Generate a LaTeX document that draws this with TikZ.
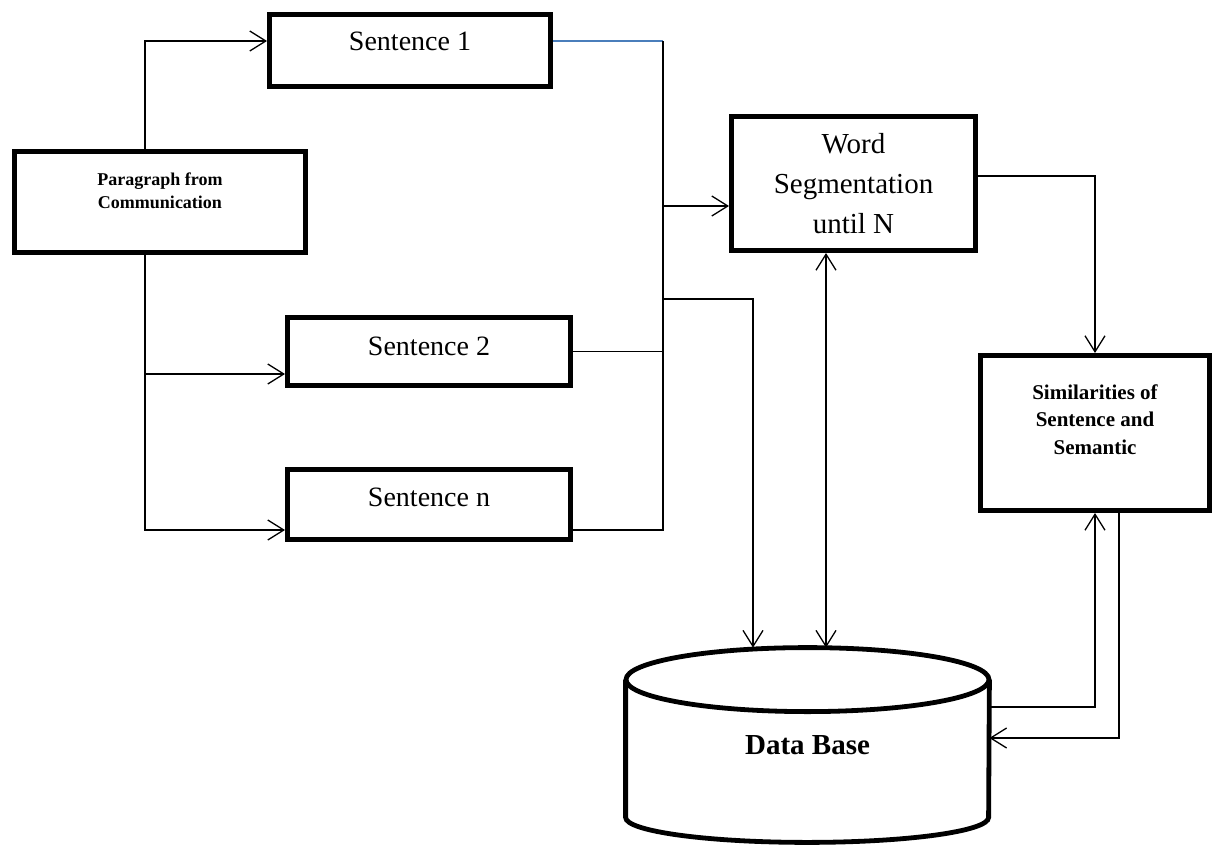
\documentclass[tikz,border=0pt]{standalone}
\usepackage{fontspec}
\setmainfont{Liberation Serif}
\usetikzlibrary{arrows.meta}
\definecolor{linkblue}{HTML}{4A7EBB}
\tikzset{
	flowbox/.style={draw=black, line width=2.6pt, align=center, inner sep=0pt},
	sentbox/.style={draw=black, line width=2.6pt, inner sep=0pt, minimum width=141.4pt,
		font=\fontsize{14}{17}\selectfont, text height=10pt},
	flowline/.style={line width=0.65pt},
	flowarr/.style={-{Straight Barb[length=8pt, width=10pt]}, line width=0.65pt},
	flowarrboth/.style={{Straight Barb[length=8pt, width=10pt]}-{Straight Barb[length=8pt, width=10pt]}, line width=0.65pt},
	dbline/.style={line width=2.4pt}
}

\begin{document}
\begin{tikzpicture}[x=0.5pt, y=-0.5pt]
	\useasboundingbox (0,0) rectangle (1216,846);
	% boxes
	\node[flowbox, minimum width=145.4pt, minimum height=50.4pt, font=\bfseries\fontsize{9}{11.5}\selectfont] (para) at (160,202) {Paragraph from\\Communication\\~};
	\node[sentbox, minimum width=140.4pt, minimum height=35.9pt, text depth=10pt] (s1) at (410,50.5) {Sentence 1};
	\node[sentbox, minimum height=33.9pt, text depth=5.9pt] (s2) at (429,351.5) {Sentence 2};
	\node[sentbox, minimum height=34.9pt, text depth=7.9pt] (sn) at (429,504.5) {Sentence n};
	\node[flowbox, minimum width=121.9pt, minimum height=66.9pt, font=\fontsize{14.5}{20}\selectfont] (ws) at (853.5,183.5) {Word\\Segmentation\\until N};
	\node[flowbox, minimum width=114.4pt, minimum height=77.4pt, font=\bfseries\fontsize{10.5}{13.75}\selectfont] (sim) at (1095,433) {Similarities of\\Sentence and\\Semantic\\~};
	\node[inner sep=0pt, minimum width=181.5pt, minimum height=97pt, font=\bfseries\fontsize{14.5}{17}\selectfont] (db) at (807.5,745) {Data Base};

	% database drum
	\draw[dbline] ([yshift=-16pt]db.north) ellipse [x radius=90.75pt, y radius=16pt];
	\draw[dbline] ([yshift=-16pt]db.north west) -- ([yshift=12.5pt]db.south west)
		arc[start angle=180, end angle=360, x radius=90.75pt, y radius=12.5pt]
		-- ([yshift=-16pt]db.north east);

	% paragraph split into sentences
	\coordinate (trunk) at ([xshift=-7.5pt]para.south);
	\coordinate (s2in) at ([yshift=-11.25pt]s2.west);
	\draw[flowarr] ([xshift=-7.5pt]para.north) |- ([yshift=4.75pt]s1.west);
	\draw[flowarr] (trunk) |- ([yshift=-12.75pt]sn.west);
	\draw[flowarr] (trunk |- s2in) -- (s2in);

	% sentences collected on one bus
	\coordinate (bustop) at (663,41);
	\coordinate (busmid) at (663,299);
	\coordinate (snout) at ([yshift=-12.75pt]sn.east);
	\draw[flowline, linkblue] ([yshift=4.75pt]s1.east) -- (bustop);
	\draw[flowline] (bustop) -- (bustop |- snout) -- (snout);
	\draw[flowline] (s2.east) -- (s2.east -| bustop);
	\coordinate (wsin) at ([yshift=-11.25pt]ws.west);
	\draw[flowarr] (wsin -| bustop) -- (wsin);
	\coordinate (dbin) at ([xshift=-27.25pt]db.north);
	\draw[flowarr] (busmid) -| (dbin);

	% word segmentation, similarities and the data base
	\draw[flowarrboth] ([xshift=-13.75pt]ws.south) -- ([xshift=-13.75pt]ws.south |- db.north);
	\draw[flowarr] ([yshift=3.75pt]ws.east) -| (sim.north);
	\draw[flowarr] ([yshift=19pt]db.east) -| (sim.south);
	\draw[flowarr] ([xshift=12pt]sim.south) |- ([yshift=3.5pt]db.east);
\end{tikzpicture}
\end{document}
